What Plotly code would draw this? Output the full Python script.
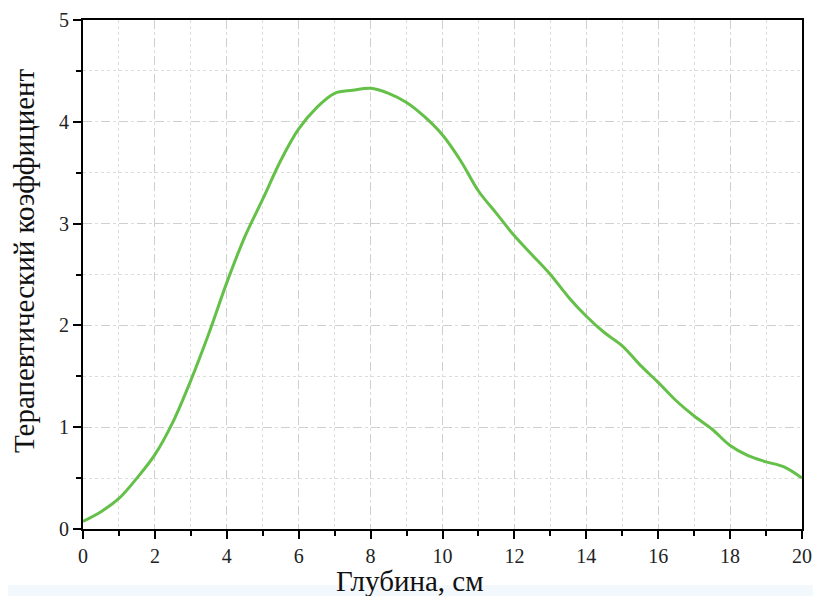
import plotly.graph_objects as go

depth = [0, 0.5, 1, 1.5, 2, 2.5, 3, 3.5, 4, 4.5, 5, 5.5, 6, 6.5, 7, 7.5, 8, 8.5, 9, 9.5,
         10, 10.5, 11, 11.5, 12, 12.5, 13, 13.5, 14, 14.5, 15, 15.5, 16, 16.5, 17, 17.5,
         18, 18.5, 19, 19.5, 20]
coef = [0.075, 0.17, 0.30, 0.50, 0.73, 1.05, 1.46, 1.92, 2.42, 2.87, 3.24, 3.62, 3.93, 4.14,
        4.28, 4.31, 4.33, 4.28, 4.19, 4.05, 3.87, 3.62, 3.32, 3.10, 2.88, 2.69, 2.50, 2.28,
        2.09, 1.93, 1.80, 1.61, 1.44, 1.26, 1.11, 0.98, 0.82, 0.72, 0.66, 0.61, 0.50]

x_ticks = list(range(0, 21, 2))
y_ticks = [0, 1, 2, 3, 4, 5]
x_title = "Глубина, см"
y_title = "Терапевтический коэффициент"

FONT = "Liberation Serif, Times New Roman, serif"

# page has an 8px body offset; figure size chosen to avoid scrollbars
W, H = 805, 588
L, R, T, B = 75, 11, 12, 67
PL, PT = 8 + L, 8 + T            # plot-area left/top on screen
PW, PH = W - L - R, H - T - B    # plot-area size
PB = PT + PH


def px(x):
    return (x - PL) / PW


def py(y):
    return (PB - y) / PH


fig = go.Figure()
fig.add_trace(go.Scatter(x=depth, y=coef, mode="lines",
                         line=dict(color="#64c048", width=3, shape="spline", smoothing=1.0),
                         showlegend=False))

axis_common = dict(
    showline=True, linecolor="black", linewidth=2, mirror=True,
    ticks="outside", ticklen=8, tickwidth=2, tickcolor="black",
    showgrid=True, gridcolor="#cfcfcf", gridwidth=1, griddash="dash",
    zeroline=False, automargin=False, ticklabeloverflow="allow",
    tickfont=dict(family=FONT, size=20, color="#222"),
)

fig.update_xaxes(
    range=[0, 20], tickvals=x_ticks, **axis_common,
    minor=dict(dtick=1, ticks="outside", ticklen=5, tickwidth=2, tickcolor="black",
               showgrid=True, gridcolor="#dcdcdc", griddash="dot", gridwidth=1),
)
fig.update_yaxes(
    range=[0, 5], tickvals=y_ticks, **axis_common,
    minor=dict(dtick=0.5, ticks="outside", ticklen=5, tickwidth=2, tickcolor="black",
               showgrid=True, gridcolor="#dcdcdc", griddash="dot", gridwidth=1),
)

fig.add_shape(type="rect", xref="paper", yref="paper", x0=-0.2, x1=1.1,
              y0=-0.2, y1=py(585), fillcolor="#f3f8fc", line=dict(width=0), layer="below")

fig.add_annotation(text=x_title, xref="paper", yref="paper", x=px(410), y=py(581),
                   showarrow=False, xanchor="center", yanchor="middle",
                   font=dict(family=FONT, size=29, color="#111"))
fig.add_annotation(text=y_title, xref="paper", yref="paper", x=px(24), y=py(261),
                   showarrow=False, xanchor="center", yanchor="middle", textangle=-90,
                   font=dict(family=FONT, size=29, color="#111"))

fig.update_layout(
    width=W, height=H,
    margin=dict(l=L, r=R, t=T, b=B),
    paper_bgcolor="white", plot_bgcolor="white",
)

fig.write_html("out.html")
